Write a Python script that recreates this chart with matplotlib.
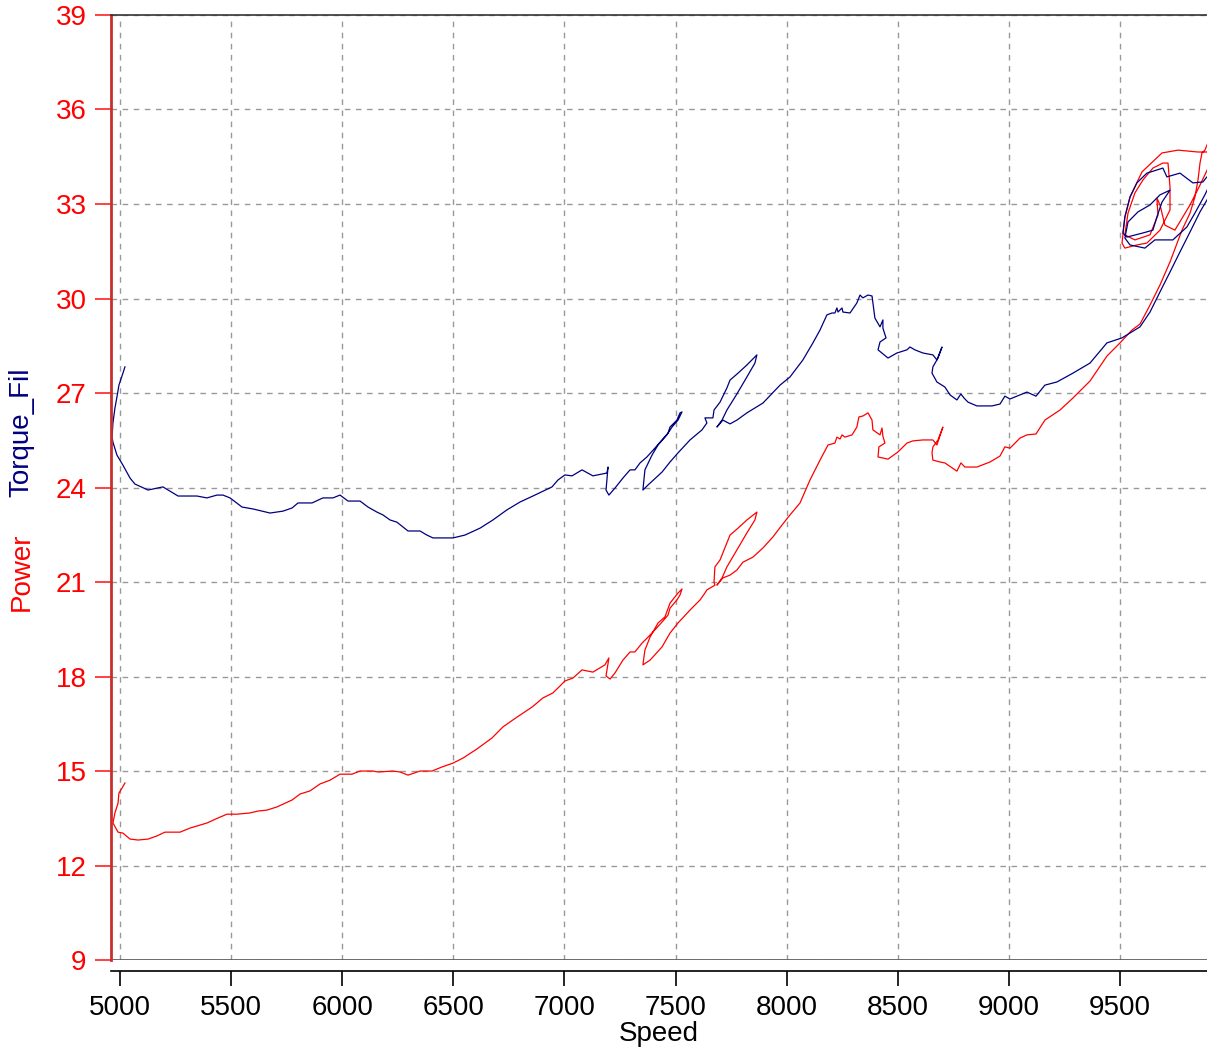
import matplotlib
matplotlib.use("Agg")
import matplotlib.pyplot as plt

plt.rcParams['font.family'] = ['Liberation Sans', 'DejaVu Sans']

# Torque_Fil trace (speed, torque)
speed_torque = [
    5022, 5013, 4995, 4986, 4977, 4968, 4964, 4968, 4986, 5013,
    5045, 5067, 5126, 5193, 5261, 5346, 5391, 5436, 5463, 5495,
    5549, 5598, 5675, 5733, 5774, 5801, 5864, 5913, 5958, 5990,
    6026, 6080, 6116, 6156, 6183, 6215, 6246, 6296, 6350, 6381,
    6408, 6498, 6552, 6620, 6678, 6741, 6800, 6858, 6944, 6971,
    7002, 7034, 7079, 7128, 7191, 7196, 7187, 7200, 7227, 7263,
    7295, 7317, 7340, 7371, 7407, 7439, 7466, 7475, 7506, 7520,
    7529, 7511, 7484, 7461, 7421, 7394, 7362, 7353, 7376, 7439,
    7475, 7511, 7565, 7619, 7641, 7632, 7668, 7673, 7700, 7731,
    7745, 7781, 7821, 7866, 7857, 7821, 7776, 7731, 7709, 7686,
    7713, 7745, 7776, 7821, 7893, 7970, 8015, 8073, 8118, 8150,
    8181, 8204, 8217, 8226, 8231, 8249, 8253, 8285, 8316, 8330,
    8343, 8366, 8384, 8397, 8420, 8433, 8433, 8447, 8420, 8411,
    8456, 8496, 8541, 8555, 8577, 8613, 8658, 8676, 8699, 8681,
    8658, 8654, 8676, 8712, 8735, 8766, 8784, 8798, 8816, 8856,
    8924, 8960, 8982, 9005, 9081, 9122, 9162, 9216, 9288, 9365,
    9441, 9509, 9590, 9635, 9680, 9725, 9770, 9815, 9860, 9905,
    9927, 9891, 9873, 9828, 9770, 9711, 9693, 9621, 9576, 9545,
    9522, 9513, 9531, 9603, 9648, 9666, 9689, 9725, 9680, 9635,
    9581, 9536, 9522, 9545, 9612, 9657, 9738, 9801, 9837, 9882,
    9914,
]
torque = [
    27.83, 27.63, 27.25, 26.87, 26.52, 26.05, 25.60, 25.44, 25.03, 24.71,
    24.30, 24.11, 23.92, 24.02, 23.73, 23.73, 23.67, 23.76, 23.76, 23.67,
    23.38, 23.32, 23.19, 23.25, 23.35, 23.51, 23.51, 23.67, 23.67, 23.76,
    23.57, 23.57, 23.38, 23.22, 23.13, 22.97, 22.90, 22.62, 22.62, 22.49,
    22.40, 22.40, 22.49, 22.71, 22.97, 23.29, 23.54, 23.73, 24.02, 24.24,
    24.40, 24.37, 24.56, 24.37, 24.46, 24.65, 23.92, 23.76, 23.98, 24.30,
    24.56, 24.56, 24.78, 24.97, 25.25, 25.51, 25.73, 25.92, 26.14, 26.37,
    26.40, 26.14, 25.92, 25.67, 25.35, 25.03, 24.56, 23.92, 24.08, 24.49,
    24.81, 25.10, 25.51, 25.83, 26.05, 26.21, 26.21, 26.46, 26.71, 27.16,
    27.41, 27.63, 27.89, 28.21, 27.95, 27.51, 26.97, 26.46, 26.14, 25.92,
    26.14, 26.02, 26.14, 26.37, 26.68, 27.25, 27.51, 28.05, 28.59, 29.00,
    29.48, 29.54, 29.54, 29.70, 29.57, 29.70, 29.57, 29.54, 29.86, 30.11,
    30.02, 30.11, 30.08, 29.38, 29.10, 29.32, 29.06, 28.75, 28.62, 28.37,
    28.11, 28.27, 28.37, 28.46, 28.37, 28.27, 28.21, 28.05, 28.46, 28.11,
    27.83, 27.63, 27.35, 27.19, 26.94, 26.78, 26.97, 26.84, 26.71, 26.59,
    26.59, 26.65, 26.90, 26.81, 27.03, 26.90, 27.25, 27.35, 27.63, 27.95,
    28.59, 28.75, 29.10, 29.57, 30.21, 30.84, 31.48, 32.11, 32.75, 33.29,
    33.76, 33.86, 33.70, 33.67, 33.98, 33.86, 34.14, 33.98, 33.67, 33.22,
    32.59, 32.08, 31.95, 32.08, 32.17, 32.59, 33.06, 33.44, 33.29, 32.97,
    32.75, 32.43, 31.92, 31.70, 31.60, 31.86, 31.86, 32.27, 32.71, 33.29,
    33.76,
]

# Power trace (speed, power)
speed_power = [
    5022, 5009, 4995, 4991, 4977, 4968, 4991, 5013, 5045, 5081,
    5126, 5166, 5202, 5270, 5315, 5391, 5441, 5481, 5526, 5585,
    5621, 5661, 5706, 5774, 5810, 5855, 5900, 5945, 5990, 6044,
    6080, 6138, 6161, 6228, 6260, 6296, 6350, 6404, 6449, 6498,
    6543, 6606, 6674, 6723, 6786, 6854, 6903, 6948, 6980, 7002,
    7038, 7079, 7128, 7182, 7200, 7187, 7205, 7227, 7263, 7295,
    7317, 7349, 7376, 7407, 7439, 7466, 7475, 7506, 7520, 7529,
    7511, 7475, 7452, 7421, 7385, 7362, 7353, 7385, 7439, 7475,
    7511, 7565, 7610, 7632, 7641, 7677, 7673, 7677, 7700, 7731,
    7745, 7781, 7821, 7866, 7857, 7821, 7776, 7731, 7709, 7686,
    7713, 7745, 7776, 7803, 7848, 7893, 7938, 7979, 8015, 8060,
    8105, 8150, 8186, 8217, 8226, 8240, 8249, 8262, 8294, 8316,
    8325, 8343, 8366, 8384, 8388, 8420, 8429, 8433, 8442, 8415,
    8411, 8456, 8501, 8541, 8568, 8613, 8658, 8676, 8703, 8681,
    8658, 8654, 8658, 8690, 8712, 8766, 8784, 8802, 8816, 8856,
    8915, 8960, 8982, 9005, 9050, 9081, 9122, 9162, 9230, 9288,
    9365, 9441, 9500, 9554, 9590, 9635, 9680, 9725, 9779, 9815,
    9837, 9851, 9860, 9869, 9882, 9905, 9927, 9891, 9851, 9761,
    9689, 9599, 9545, 9522, 9509, 9522, 9576, 9621, 9680, 9725,
    9725, 9716, 9693, 9648, 9603, 9567, 9536, 9522, 9567, 9635,
    9671, 9666, 9680, 9702, 9747, 9815, 9860, 9914,
]
power = [
    14.62, 14.46, 14.30, 13.98, 13.67, 13.35, 13.06, 13.03, 12.84, 12.81,
    12.84, 12.94, 13.06, 13.06, 13.19, 13.35, 13.51, 13.63, 13.63, 13.67,
    13.73, 13.76, 13.86, 14.08, 14.27, 14.37, 14.59, 14.71, 14.90, 14.90,
    15.00, 15.00, 14.97, 15.00, 14.97, 14.87, 15.00, 15.00, 15.13, 15.25,
    15.41, 15.70, 16.05, 16.40, 16.71, 17.03, 17.32, 17.48, 17.70, 17.86,
    17.95, 18.21, 18.14, 18.37, 18.59, 18.02, 17.92, 18.11, 18.52, 18.78,
    18.78, 19.06, 19.25, 19.48, 19.73, 19.95, 20.17, 20.43, 20.59, 20.78,
    20.65, 20.33, 19.89, 19.70, 19.25, 18.84, 18.37, 18.52, 18.94, 19.38,
    19.70, 20.11, 20.43, 20.65, 20.75, 20.90, 21.00, 21.48, 21.70, 22.24,
    22.49, 22.71, 22.97, 23.22, 22.97, 22.56, 22.02, 21.48, 21.13, 20.90,
    21.13, 21.22, 21.38, 21.63, 21.79, 22.08, 22.43, 22.81, 23.13, 23.51,
    24.24, 24.87, 25.35, 25.41, 25.60, 25.54, 25.67, 25.60, 25.67, 25.92,
    26.24, 26.27, 26.37, 26.14, 25.83, 25.67, 25.89, 25.63, 25.41, 25.29,
    24.97, 24.90, 25.13, 25.41, 25.48, 25.51, 25.51, 25.35, 25.92, 25.51,
    25.29, 25.10, 24.87, 24.81, 24.78, 24.52, 24.78, 24.65, 24.65, 24.65,
    24.81, 25.00, 25.29, 25.25, 25.57, 25.67, 25.70, 26.14, 26.46, 26.84,
    27.38, 28.17, 28.59, 29.00, 29.19, 29.79, 30.43, 31.16, 32.17, 32.71,
    33.22, 33.76, 34.30, 34.62, 34.71, 35.10, 34.87, 34.65, 34.65, 34.71,
    34.62, 34.02, 33.22, 32.59, 31.76, 31.60, 31.70, 31.76, 32.17, 32.81,
    33.54, 34.30, 34.30, 34.14, 33.76, 33.35, 32.71, 32.02, 31.86, 32.02,
    32.65, 33.19, 32.97, 32.33, 32.17, 32.97, 33.60, 34.40,
]

x_ticks = [5000, 5500, 6000, 6500, 7000, 7500, 8000, 8500, 9000, 9500]
y_ticks = [9, 12, 15, 18, 21, 24, 27, 30, 33, 36, 39]

fig = plt.figure(figsize=(12.07, 10.55), dpi=100)
ax = fig.add_axes([0.092, 0.090, 0.908, 0.8958])

ax.plot(speed_power, power, color='#ff0000', lw=0.9)
ax.plot(speed_torque, torque, color='#000080', lw=0.9)

ax.set_xlim(4959.5, 9891.5)
ax.set_ylim(9, 39)
ax.set_xticks(x_ticks)
ax.set_yticks(y_ticks)

ax.grid(True, color='#999999', linestyle=(0, (4, 4)), linewidth=1)
ax.set_axisbelow(True)
ax.axhline(9, color='#555555', lw=1.2, zorder=1)

# spines
ax.spines['right'].set_visible(False)
ax.spines['top'].set_color('#333333')
ax.spines['top'].set_linewidth(1.2)
ax.spines['left'].set_color('#c83030')
ax.spines['left'].set_linewidth(2)
ax.spines['bottom'].set_position(('outward', 8))
ax.spines['bottom'].set_color('black')
ax.spines['bottom'].set_linewidth(1.2)

ax.tick_params(axis='y', colors='#ff2020', labelcolor='#ff0000', length=11.5,
               width=1.2, pad=6, labelsize=20)
ax.tick_params(axis='x', colors='black', length=11, width=1.2, pad=6, labelsize=20)

ax.set_xlabel("Speed", fontsize=20, labelpad=0)

fig.text(0.018, 0.458, "Power", rotation=90, color='#ff0000', fontsize=20,
         ha='center', va='center')
fig.text(0.018, 0.5905, "Torque_Fil", rotation=90, color='#000080', fontsize=20,
         ha='center', va='center')

fig.savefig("out.png", dpi=100)
